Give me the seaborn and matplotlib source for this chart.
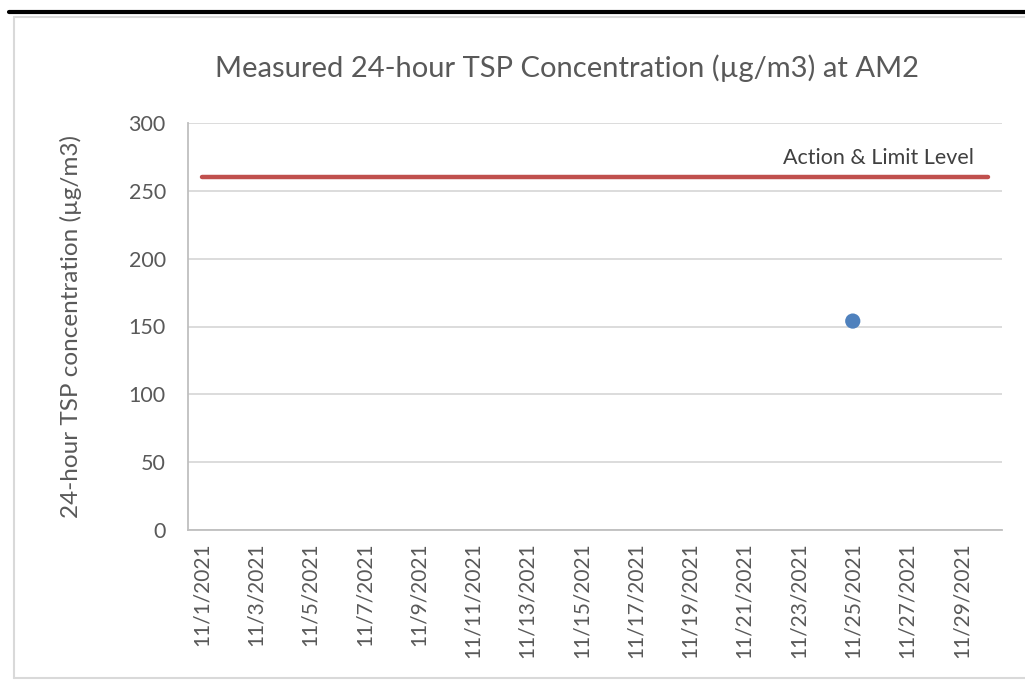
import matplotlib
matplotlib.use('Agg')
import matplotlib.pyplot as plt
import matplotlib.lines as mlines
import pandas as pd
import seaborn as sns

# measured TSP (one sample this month)
sample_dates = ['2021-11-25']
sample_values = [154]

# action & limit level
limit_dates = ['2021-11-01', '2021-11-30']
limit_values = [260, 260]

tick_days = [1, 3, 5, 7, 9, 11, 13, 15, 17, 19, 21, 23, 25, 27, 29]
y_ticks = [0, 50, 100, 150, 200, 250, 300]

sns.set_style('white')
plt.rcParams['font.family'] = ['Lato', 'DejaVu Sans']
text_col = '#595959'

df_sample = pd.DataFrame({'date': pd.to_datetime(sample_dates), 'tsp': sample_values})
df_limit = pd.DataFrame({'date': pd.to_datetime(limit_dates), 'tsp': limit_values})

fig = plt.figure(figsize=(10.25, 6.84), dpi=100)
ax = fig.add_axes([188 / 1025, 154 / 684, 814 / 1025, 407 / 684])

sns.lineplot(ax=ax, data=df_limit, x='date', y='tsp', color='#C0504D',
             linewidth=3.2, solid_capstyle='round')
sns.scatterplot(ax=ax, data=df_sample, x='date', y='tsp', color='#4F81BD',
                s=120, edgecolor='none', zorder=5)

ax.annotate('Action & Limit Level', xy=(df_limit['date'].iloc[-1], limit_values[-1]),
            xytext=(-15, 9), textcoords='offset pixels', ha='right', va='bottom',
            fontsize=15.5, color='#404040')

start = pd.Timestamp('2021-11-01') - pd.Timedelta(hours=12)
end = pd.Timestamp('2021-11-30') + pd.Timedelta(hours=12)
ax.set_xlim(start, end)
ax.set_ylim(0, 300)

xt = [pd.Timestamp(2021, 11, d) for d in tick_days]
ax.set_xticks(xt)
ax.set_xticklabels([f'11/{d}/2021' for d in tick_days], rotation=90,
                   fontsize=15, color=text_col)
ax.set_yticks(y_ticks)
ax.set_yticklabels([str(v) for v in y_ticks], fontsize=15.5, color=text_col)
ax.tick_params(axis='x', length=0, pad=9)
ax.tick_params(axis='y', length=0, pad=16)

ax.yaxis.grid(True, color='#D9D9D9', linewidth=1.3)
ax.set_axisbelow(True)
for s in ['top', 'right']:
    ax.spines[s].set_visible(False)
for s in ['left', 'bottom']:
    ax.spines[s].set_color('#BFBFBF')
    ax.spines[s].set_linewidth(1.3)

ax.set_xlabel('')
ax.set_ylabel('24-hour TSP concentration (\u00b5g/m3)', fontsize=17.5,
              color=text_col)
ax.yaxis.set_label_coords(-106 / 814, 0.5)

fig.text(567 / 1025, 1 - 68 / 684, 'Measured 24-hour TSP Concentration (\u00b5g/m3) at AM2',
         ha='center', va='center', fontsize=21, color=text_col)

# outer frame
fig.add_artist(mlines.Line2D([9 / 1025, 1], [1 - 12 / 684, 1 - 12 / 684],
                             color='black', linewidth=3, transform=fig.transFigure))
gray = '#D9D9D9'
fig.add_artist(mlines.Line2D([13.5 / 1025, 13.5 / 1025], [1 - 16.5 / 684, 1 - 677.5 / 684],
                             color=gray, linewidth=1.5, transform=fig.transFigure))
fig.add_artist(mlines.Line2D([13.5 / 1025, 1], [1 - 16.5 / 684, 1 - 16.5 / 684],
                             color=gray, linewidth=1.5, transform=fig.transFigure))
fig.add_artist(mlines.Line2D([13.5 / 1025, 1], [1 - 677.5 / 684, 1 - 677.5 / 684],
                             color=gray, linewidth=1.5, transform=fig.transFigure))

fig.savefig('out.png', dpi=100)
